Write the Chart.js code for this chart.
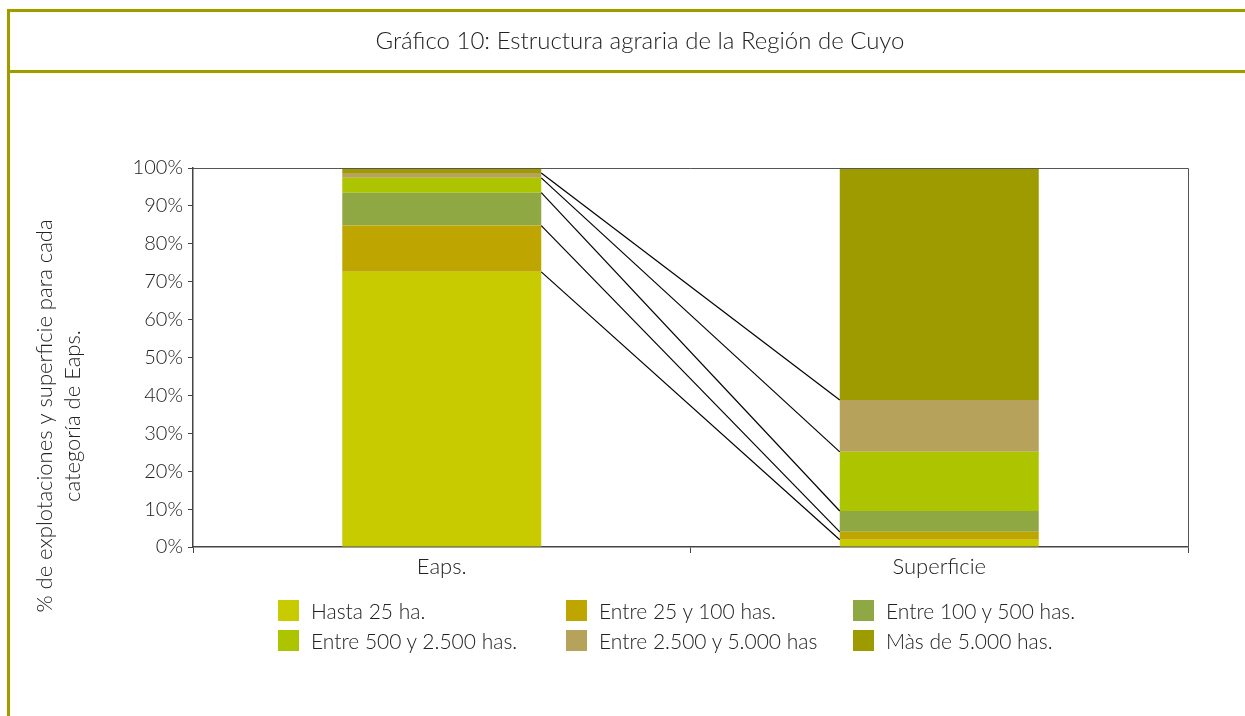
<!DOCTYPE html>
<html>
<head>
<meta charset="utf-8">
<script src="https://cdn.jsdelivr.net/npm/chart.js@4.4.1/dist/chart.umd.min.js"></script>
<style>
  html, body { margin: 0; padding: 0; background: #fff; }
  body { width: 1245px; height: 716px; position: relative; overflow: hidden; font-family: Lato, "Open Sans", sans-serif; color: #222; }
  #wrap { position: absolute; left: 0; top: 0; width: 1245px; height: 716px; }
  .frame { position: absolute; background: #9e9b00; box-shadow: 0 0 1px #d6d46a; }
  #title { position: absolute; left: 35px; right: 0; top: 25px; text-align: center; font-size: 24px; font-weight: 300; color: #222; }
  #legend { position: absolute; left: 278px; top: 600px; }
  .item { position: absolute; height: 22px; white-space: nowrap; font-size: 21px; font-weight: 300; line-height: 22px; }
  .item span.box { position: absolute; left: 0; top: 0; width: 21px; height: 21px; }
  .item span.txt { position: absolute; left: 33px; top: 0; }
</style>
</head>
<body>
<div id="wrap"><canvas id="chart" width="1245" height="716"></canvas></div>
<div class="frame" style="left:8px; top:9px; width:1237px; height:3px;"></div>
<div class="frame" style="left:8px; top:70px; width:1237px; height:3px;"></div>
<div class="frame" style="left:7px; top:9px; width:3px; height:707px;"></div>
<div id="title">Gráfico 10: Estructura agraria de la Región de Cuyo</div>
<div id="legend"></div>
<script>
// categorías y series (%)
const categories = ['Eaps.', 'Superficie'];
const seriesLabels = ['Hasta 25 ha.', 'Entre 25 y 100 has.', 'Entre 100 y 500 has.',
  'Entre 500 y 2.500 has.', 'Entre 2.500 y 5.000 has', 'Màs de 5.000 has.'];
const hasta25 = [72.6, 1.9];
const de25a100 = [12.2, 2.1];
const de100a500 = [8.7, 5.5];
const de500a2500 = [3.9, 15.6];
const de2500a5000 = [1.3, 13.7];
const masDe5000 = [1.3, 61.2];
const yTicks = [0, 10, 20, 30, 40, 50, 60, 70, 80, 90, 100];
const colors = ['#c8cb00', '#bfa500', '#8fa843', '#adc500', '#b6a25a', '#9e9b00'];

const values = [hasta25, de25a100, de100a500, de500a2500, de2500a5000, masDe5000];
const datasets = values.map(function (v, i) {
  return {
    label: seriesLabels[i],
    data: v,
    backgroundColor: colors[i],
    borderWidth: 0,
    categoryPercentage: 1,
    barPercentage: 0.4
  };
});

// leyenda en 3 columnas
const legend = document.getElementById('legend');
const colX = [0, 288, 575];
seriesLabels.forEach(function (lab, i) {
  const d = document.createElement('div');
  d.className = 'item';
  d.style.left = colX[i % 3] + 'px';
  d.style.top = (Math.floor(i / 3) * 30) + 'px';
  d.innerHTML = '<span class="box" style="background:' + colors[i] + '"></span><span class="txt">' + lab + '</span>';
  legend.appendChild(d);
});

// líneas de serie entre las barras + borde del área + título del eje
const seriesLines = {
  id: 'seriesLines',
  afterDatasetsDraw(chart) {
    const ctx = chart.ctx;
    ctx.save();
    ctx.strokeStyle = '#000';
    ctx.lineWidth = 1.2;
    for (let i = 0; i < chart.data.datasets.length - 1; i++) {
      const meta = chart.getDatasetMeta(i);
      const a = meta.data[0], b = meta.data[1];
      ctx.beginPath();
      ctx.moveTo(a.x + a.width / 2, a.y);
      ctx.lineTo(b.x - b.width / 2, b.y);
      ctx.stroke();
    }
    const ca = chart.chartArea;
    ctx.strokeStyle = '#555';
    ctx.lineWidth = 1;
    ctx.beginPath();
    ctx.moveTo(ca.left, ca.top + 0.5);
    ctx.lineTo(ca.right + 0.5, ca.top + 0.5);
    ctx.lineTo(ca.right + 0.5, ca.bottom);
    ctx.stroke();
    ctx.restore();
  },
  afterDraw(chart) {
    const ctx = chart.ctx;
    ctx.save();
    ctx.fillStyle = '#222';
    ctx.font = '300 22px Lato';
    ctx.textAlign = 'center';
    ctx.textBaseline = 'middle';
    ctx.translate(45, 416);
    ctx.rotate(-Math.PI / 2);
    ctx.fillText('% de explotaciones y superficie para cada', 0, 0);
    ctx.fillText('categoría de Eaps.', 0, 28);
    ctx.restore();
  }
};

new Chart(document.getElementById('chart'), {
  type: 'bar',
  data: { labels: categories, datasets: datasets },
  plugins: [seriesLines],
  options: {
    responsive: false,
    animation: false,
    layout: { padding: { left: 0, right: 57, top: 168, bottom: 129 } },
    plugins: { legend: { display: false }, tooltip: { enabled: false } },
    scales: {
      x: {
        stacked: true,
        afterFit(s) { s.height = 40; },
        grid: { drawOnChartArea: false, drawTicks: true, tickLength: 6, color: '#444', offset: true },
        border: { color: '#444', width: 1.5 },
        ticks: { color: '#222', font: { family: 'Lato', size: 22, weight: '300' }, padding: 1 }
      },
      y: {
        stacked: true,
        min: 0,
        max: 100,
        afterFit(s) { s.width = 193; },
        afterBuildTicks(s) { s.ticks = yTicks.map(function (v) { return { value: v }; }); },
        grid: { drawOnChartArea: false, drawTicks: true, tickLength: 5, color: '#444' },
        border: { color: '#444', width: 1.5 },
        ticks: {
          color: '#222', padding: 5,
          font: { family: 'Lato', size: 20, weight: '300' },
          callback: function (v) { return v + '%'; }
        }
      }
    }
  }
});
</script>
</body>
</html>
